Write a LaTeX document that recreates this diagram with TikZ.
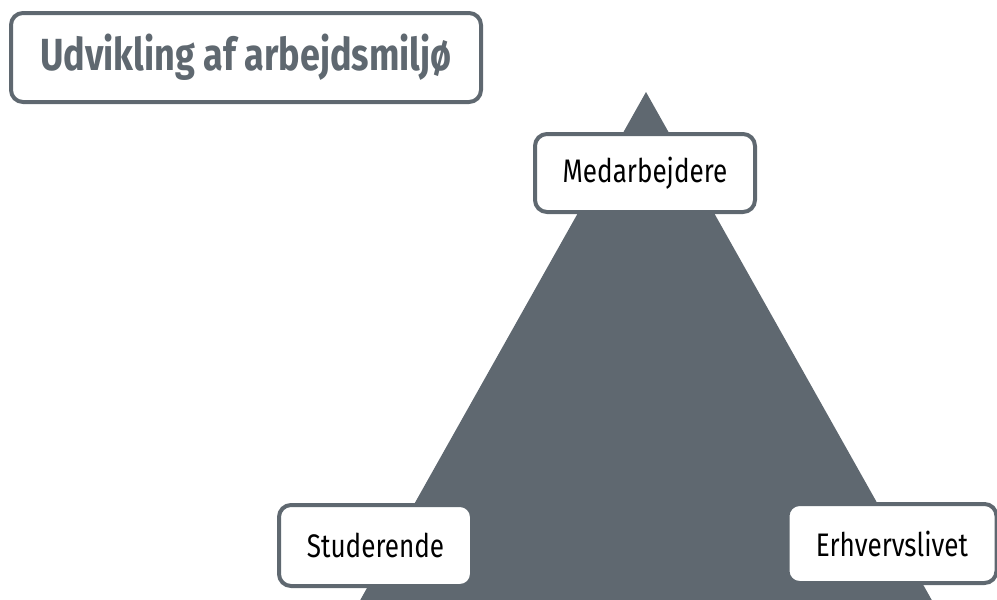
\documentclass[tikz,border=0pt]{standalone}
\usepackage{fontspec}
\setmainfont[FakeStretch=0.8]{Fira Sans}
\usepackage{tikz}
\usetikzlibrary{positioning}
\definecolor{slate}{RGB}{95,104,112}
\tikzset{
  box/.style={draw=slate, line width=2pt, fill=white, rounded corners=6pt, align=center, inner sep=0pt},
  titlebox/.style={box, text=slate, font=\fontsize{22.5}{26}\selectfont\bfseries},
  rolebox/.style={box, text=black, font=\fontsize{16.3}{19}\selectfont}
}

\begin{document}
\begin{tikzpicture}[x=0.5pt, y=-0.5pt]
		\useasboundingbox (0,0) rectangle (997,600);
		\clip (0,0) rectangle (997,600);
		% pyramid
		\fill[slate] (646,92) -- (988,700) -- (304,700) -- cycle;
		
		\node [titlebox, minimum width=235pt, minimum height=44.5pt] (title) at (246,57.5) {Udvikling af arbejdsmiljø};
		\node [rolebox, minimum width=110pt, minimum height=39pt] (med) at (645,173) {Medarbejdere};
		\node [rolebox, minimum width=96.5pt, minimum height=40.5pt] (stud) at (375.5,545.5) {Studerende};
		\node [rolebox, minimum width=104.5pt, minimum height=39.5pt] (erhv) at (892,543.5) {Erhvervslivet};
\end{tikzpicture}
\end{document}
